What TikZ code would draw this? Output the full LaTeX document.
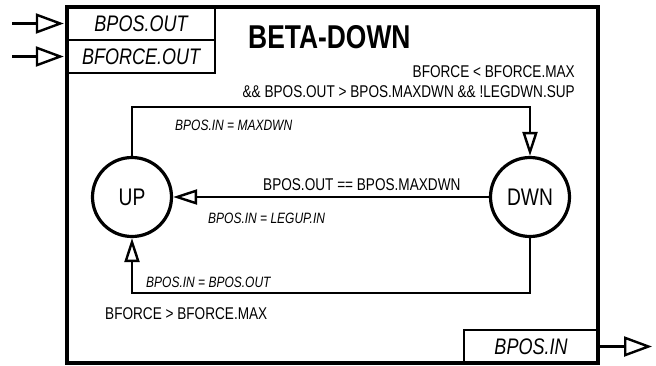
\documentclass[tikz,border=0pt]{standalone}
\usepackage{fontspec}
\setmainfont[FakeStretch=0.8]{Liberation Sans}
\usetikzlibrary{arrows.meta,positioning}

\begin{document}
\begin{tikzpicture}[x=1pt,y=-1pt,
    block/.style={draw,line width=3.2pt,inner sep=0pt,minimum width=531pt,minimum height=356pt},
    port box/.style={draw,line width=2.4pt,inner sep=0pt,minimum height=33pt,font=\fontsize{22.5}{26}\selectfont\itshape},
    state node/.style={circle,draw,line width=3.2pt,inner sep=0pt,minimum size=79pt,font=\fontsize{24}{28}\selectfont},
    trans/.style={line width=2.4pt,-{Triangle[open,length=24pt,width=15pt]}},
    port arrow/.style={line width=2.4pt,-{Triangle[open,length=28pt,width=20pt]}},
    cond/.style={inner sep=0pt,anchor=base west,font=\fontsize{17}{20}\selectfont},
    act/.style={inner sep=0pt,anchor=base west,font=\fontsize{15}{18}\selectfont\itshape}]

  \useasboundingbox (0,0) rectangle (656,365);

  % block and ports
  \node[block] (blk) at (332.5,185) {};
  \node[port box,minimum width=148pt] (bposout) at (141,23.5) {BPOS.OUT};
  \node[port box,minimum width=148pt] (bforceout) at (141,56.5) {BFORCE.OUT};
  \node[port box,minimum width=134pt] (bposin) at (531,346.5) {BPOS.IN};
  \node[inner sep=0pt,anchor=base west,font=\fontsize{33}{38}\selectfont\bfseries] (title) at (248,48) {BETA-DOWN};

  \coordinate (in1) at (12,23.5);
  \coordinate (in2) at (12,56.5);
  \coordinate (out1) at (652,346.5);
  \draw[port arrow,shorten >=2pt] (in1) -- (bposout.west);
  \draw[port arrow,shorten >=2pt] (in2) -- (bforceout.west);
  \draw[port arrow] (bposin.east) -- (out1);

  % states
  \node[state node] (up) at (132,197) {UP};
  \node[state node] (dwn) at (530,197) {DWN};

  \coordinate (topr) at (530,107);
  \coordinate (botr) at (530,293);
  \draw[trans] (up.north) |- (topr) -- (dwn.north);
  \draw[trans] (dwn.west) -- (up.east);
  \draw[trans] (dwn.south) -- (botr) -| (up.south);

  % transition texts
  \node[cond,anchor=base east] (c1) at (575,77) {BFORCE < BFORCE.MAX};
  \node[cond,anchor=base east] (c2) at (575,97) {\&\& BPOS.OUT > BPOS.MAXDWN \&\& !LEGDWN.SUP};
  \node[act] (a1) at (175,130) {BPOS.IN = MAXDWN};
  \node[cond] (c3) at (263,190) {BPOS.OUT == BPOS.MAXDWN};
  \node[act] (a2) at (208,223) {BPOS.IN = LEGUP.IN};
  \node[act] (a3) at (146,287) {BPOS.IN = BPOS.OUT};
  \node[cond] (c4) at (105,319) {BFORCE > BFORCE.MAX};

\end{tikzpicture}
\end{document}
